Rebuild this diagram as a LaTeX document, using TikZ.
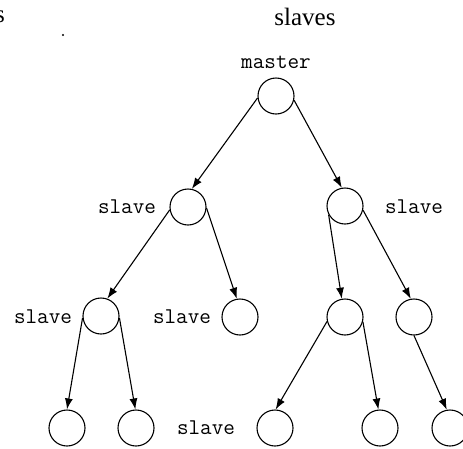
\documentclass[tikz,border=0pt]{standalone}
\usepackage{fontspec}
\setmainfont{Liberation Serif}
\usetikzlibrary{arrows.meta}
\begin{document}
\begin{tikzpicture}[x=1pt,y=-1pt,
  vtx/.style={circle,draw,line width=1.1pt,minimum size=36pt,inner sep=0pt},
  lbl/.style={font=\ttfamily\fontsize{22.5}{22.5}\selectfont,inner sep=0pt},
  ttl/.style={font=\fontsize{25}{25}\selectfont,inner sep=0pt},
  edge/.style={line width=1.1pt,-{Latex[length=11pt,width=8pt]}}]
\useasboundingbox (0,0) rectangle (463,448);
% headings
\node[ttl,anchor=east] (s) at (5,17) {s};
\node[ttl] (slaves) at (305,17) {slaves};
\fill (63,35) circle (1.2pt);
% nodes
\node[vtx] (m) at (276,96) {};
\node[lbl] (lm) at (276,62) {master};
\node[vtx] (a) at (188,207) {};
\node[lbl] (la) at (127,207) {slave};
\node[vtx] (b) at (345,206) {};
\node[lbl] (lb) at (414,207) {slave};
\node[vtx] (c) at (101,316) {};
\node[lbl] (lc) at (43,317) {slave};
\node[vtx] (d) at (240,317) {};
\node[lbl] (ld) at (182,317) {slave};
\node[vtx] (e) at (345,317) {};
\node[vtx] (f) at (414,317) {};
\node[vtx] (g) at (67,428) {};
\node[vtx] (h) at (136,428) {};
\node[lbl] (lh) at (206,428) {slave};
\node[vtx] (i) at (275,428) {};
\node[vtx] (j) at (380,428) {};
\node[vtx] (k) at (450,428) {};
% edges
\draw[edge] (m.186) -- (a.78);
\draw[edge] (m.347) -- (b.100);
\draw[edge] (a.189) -- (c.70);
\draw[edge] (a.357) -- (d.100);
\draw[edge] (b.208) -- (e.100);
\draw[edge] (b.347) -- (f.100);
\draw[edge] (c.186) -- (g.90);
\draw[edge] (c.354) -- (h.92);
\draw[edge] (e.194) -- (i.88);
\draw[edge] (e.345) -- (j.95);
\draw[edge] (f.270) -- (k.100);
\end{tikzpicture}
\end{document}
